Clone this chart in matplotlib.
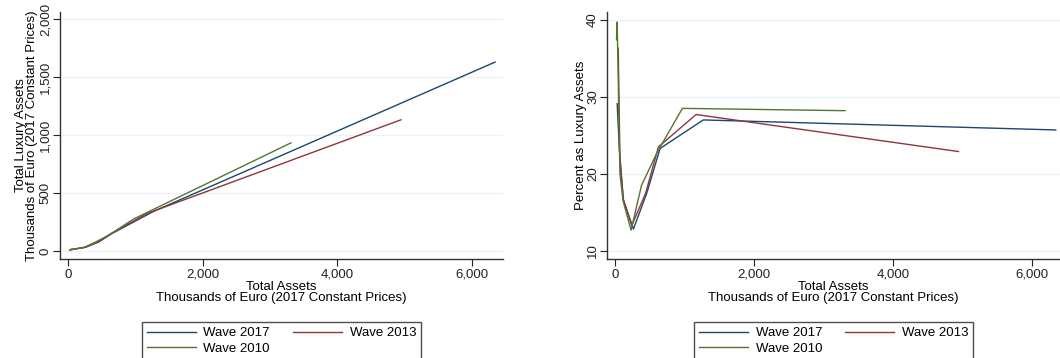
import numpy as np
import matplotlib.pyplot as plt
from matplotlib.ticker import FuncFormatter

plt.rcParams['font.family'] = ['Liberation Sans', 'DejaVu Sans']

# total assets (thousands of euro) and percent held as luxury assets, per wave
total_2017 = [30, 62, 120, 264, 456, 648, 1271, 6345]
pct_2017 = [29.1, 23.1, 16.6, 12.85, 17.5, 23.3, 27.0, 25.7]
total_2013 = [45, 70, 115, 240, 440, 624, 1166, 4945]
pct_2013 = [36.3, 22.0, 16.8, 13.3, 17.5, 23.5, 27.7, 22.9]
total_2010 = [20, 30, 70, 115, 230, 380, 600, 969, 3311]
pct_2010 = [37.4, 39.7, 20.0, 16.5, 12.7, 18.5, 22.7, 28.5, 28.2]

waves = ['Wave 2017', 'Wave 2013', 'Wave 2010']
colors = ['#1a476f', '#90353b', '#55752f']
totals = [total_2017, total_2013, total_2010]
pcts = [pct_2017, pct_2013, pct_2010]

xlab = 'Total Assets\nThousands of Euro (2017 Constant Prices)'
comma = FuncFormatter(lambda v, p: '{:,.0f}'.format(v))
fs = 9.5

fig = plt.figure(figsize=(10.6, 3.58), dpi=100)
ax1 = fig.add_axes([0.0566, 0.2765, 0.418, 0.69])
ax2 = fig.add_axes([0.573, 0.2765, 0.427, 0.69])


def style(ax):
    for s in ['top', 'right']:
        ax.spines[s].set_visible(False)
    for s in ['left', 'bottom']:
        ax.spines[s].set_linewidth(1.0)
        ax.spines[s].set_color('#333333')
    ax.tick_params(direction='out', length=5, width=0.8, labelsize=fs, colors='#222222', pad=2)
    ax.tick_params(axis='y', labelrotation=90, pad=1)
    ax.yaxis.grid(True, color='#eaf2f3', lw=0.9)
    ax.set_axisbelow(True)
    ax.xaxis.set_major_formatter(comma)
    ax.set_xticks([0, 2000, 4000, 6000])
    ax.set_xlabel(xlab, fontsize=fs, labelpad=0, linespacing=0.95)


lines = []
for t, p, c, w in zip(totals, pcts, colors, waves):
    t = np.array(t, dtype=float)
    p = np.array(p, dtype=float)
    ax1.plot(t, t * p / 100, color=c, lw=1.0)
    l, = ax2.plot(t, p, color=c, lw=1.0, label=w)
    lines.append(l)

ax1.set_xlim(-124, 6464)
ax1.set_ylim(-69, 2063)
ax1.set_yticks([0, 500, 1000, 1500, 2000])
ax1.yaxis.set_major_formatter(comma)
ax1.set_ylabel('Total Luxury Assets\nThousands of Euro (2017 Constant Prices)',
               fontsize=fs, labelpad=1, linespacing=0.95)
style(ax1)

ax2.set_xlim(-111, 6407)
ax2.set_ylim(8.96, 41.0)
ax2.set_yticks([10, 20, 30, 40])
ax2.set_ylabel('Percent as Luxury Assets', fontsize=fs, labelpad=0)
style(ax2)

order = [0, 2, 1]
for ax in [ax1, ax2]:
    for t in ax.get_yticklabels():
        t.set_va('center')
    leg = ax.legend([lines[i] for i in order], [waves[i] for i in order],
                    ncol=2, loc='upper center', bbox_to_anchor=(0.5, -0.2267),
                    frameon=True, fancybox=False, edgecolor='#222222', fontsize=fs,
                    handlelength=3.7, handletextpad=0.58, columnspacing=1.75,
                    borderpad=0.4, labelspacing=0.25)
    leg.get_frame().set_linewidth(1.0)

fig.savefig('out.png', dpi=100)
